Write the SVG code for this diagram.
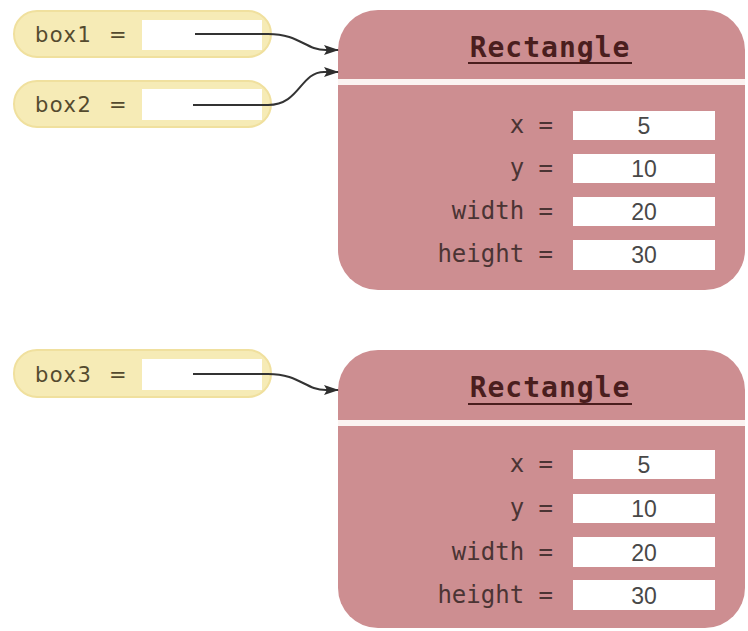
<svg xmlns="http://www.w3.org/2000/svg" width="748" height="631" viewBox="0 0 748 631">
<defs>
<marker id="ah" markerWidth="15" markerHeight="10" refX="14" refY="5" orient="auto" markerUnits="userSpaceOnUse">
<path d="M0,0 L15,5 L0,10 L3,5 Z" fill="#2e2e2e"/>
</marker>
<style>
.pill{fill:#f6ebb6;stroke:#f0e09e;stroke-width:2}
.slot{fill:#ffffff}
.var{font-family:"DejaVu Sans",Verdana,sans-serif;font-size:21px;letter-spacing:1.5px;fill:#544a2e}
.obj{fill:#cd8e91}
.sep{fill:#fbf3f1}
.title{font-family:"DejaVu Sans Mono","Liberation Mono",monospace;font-weight:bold;font-size:28px;letter-spacing:1px;fill:#4a1e1e;text-anchor:middle}
.uline{stroke:#4a1e1e;stroke-width:2}
.lbl{font-family:"DejaVu Sans Mono","Liberation Mono",monospace;font-size:24px;fill:#4a3434;text-anchor:end}
.field{fill:#ffffff}
.val{font-family:"Liberation Sans","DejaVu Sans",sans-serif;font-size:23px;fill:#484848;text-anchor:middle}
.conn{fill:none;stroke:#333333;stroke-width:2}
</style>
</defs>
<rect width="748" height="631" fill="#ffffff"/>

<g id="box1">
<rect class="pill" x="14" y="11" width="257" height="46" rx="23"/>
<rect class="slot" x="142" y="20" width="120" height="30"/>
<text class="var" x="35" y="42">box1<tspan x="109">=</tspan></text>
</g>

<g id="box2">
<rect class="pill" x="14" y="81" width="257" height="46" rx="23"/>
<rect class="slot" x="142" y="89" width="120" height="31"/>
<text class="var" x="35" y="112">box2<tspan x="109">=</tspan></text>
</g>

<g id="box3">
<rect class="pill" x="14" y="350" width="257" height="47" rx="23"/>
<rect class="slot" x="142" y="359" width="120" height="31"/>
<text class="var" x="35" y="382">box3<tspan x="109">=</tspan></text>
</g>

<g id="rect1">
<rect class="obj" x="338" y="10" width="407" height="280" rx="40"/>
<rect class="sep" x="338" y="79" width="407" height="6"/>
<text class="title" x="550" y="57">Rectangle</text>
<line class="uline" x1="468" y1="63" x2="632" y2="63"/>
<rect class="field" x="573" y="111" width="142" height="29"/>
<rect class="field" x="573" y="154" width="142" height="29"/>
<rect class="field" x="573" y="197" width="142" height="29"/>
<rect class="field" x="573" y="240" width="142" height="30"/>
<text class="lbl" x="553" y="133">x =</text>
<text class="lbl" x="553" y="176">y =</text>
<text class="lbl" x="553" y="219">width =</text>
<text class="lbl" x="553" y="262">height =</text>
<text class="val" x="644" y="134">5</text>
<text class="val" x="644" y="177">10</text>
<text class="val" x="644" y="220">20</text>
<text class="val" x="644" y="263">30</text>
</g>

<g id="rect2">
<rect class="obj" x="338" y="350" width="407" height="278" rx="40"/>
<rect class="sep" x="338" y="420" width="407" height="6"/>
<text class="title" x="550" y="397">Rectangle</text>
<line class="uline" x1="468" y1="404" x2="632" y2="404"/>
<rect class="field" x="573" y="450" width="142" height="29"/>
<rect class="field" x="573" y="494" width="142" height="29"/>
<rect class="field" x="573" y="537" width="142" height="30"/>
<rect class="field" x="573" y="580" width="142" height="30"/>
<text class="lbl" x="553" y="472">x =</text>
<text class="lbl" x="553" y="516">y =</text>
<text class="lbl" x="553" y="560">width =</text>
<text class="lbl" x="553" y="603">height =</text>
<text class="val" x="644" y="473">5</text>
<text class="val" x="644" y="517">10</text>
<text class="val" x="644" y="561">20</text>
<text class="val" x="644" y="604">30</text>
</g>

<g id="connectors">
<path class="conn" d="M195,34 H268 C300,34 305,50 326,50 L338,50" marker-end="url(#ah)"/>
<path class="conn" d="M193,105 H268 C300,105 300,72 324,72 L338,72" marker-end="url(#ah)"/>
<path class="conn" d="M193,374 H268 C300,374 305,390 326,390 L338,390" marker-end="url(#ah)"/>
</g>
</svg>
